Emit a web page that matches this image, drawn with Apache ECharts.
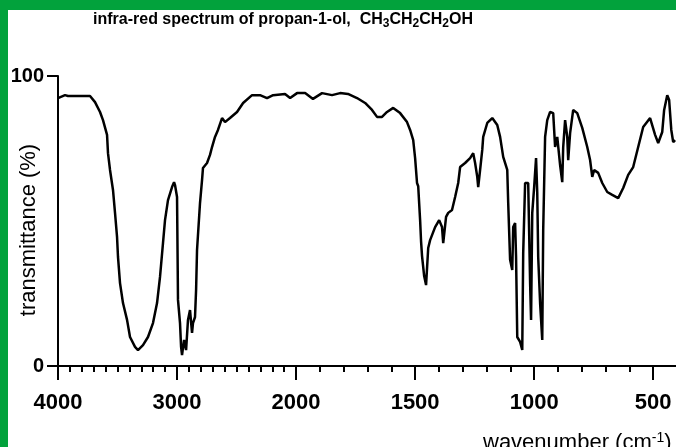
<!DOCTYPE html>
<html>
<head>
<meta charset="utf-8">
<script src="https://cdn.jsdelivr.net/npm/echarts@6/dist/echarts.min.js"></script>
<style>
  html, body { margin: 0; padding: 0; background: #fff; }
  #chart { width: 676px; height: 447px; }
</style>
</head>
<body>
<div id="chart"></div>
<script>
const wavenumber = [4000, 3941, 3916, 3731, 3689, 3647, 3622, 3588, 3580, 3563, 3538, 3521, 3504, 3496, 3479, 3454, 3420, 3395, 3353, 3328,
  3286, 3244, 3202, 3168, 3143, 3118, 3101, 3076, 3042, 3025, 3017, 3000, 2992, 2975, 2966, 2958, 2941, 2924, 2908, 2891,
  2874, 2866, 2849, 2840, 2832, 2807, 2790, 2782, 2748, 2723, 2706, 2681, 2656, 2622, 2597, 2555, 2496, 2445, 2370, 2303,
  2244, 2193, 2093, 2050, 1996, 1962, 1929, 1891, 1849, 1815, 1782, 1744, 1710, 1681, 1660, 1639, 1618, 1592, 1563, 1534,
  1521, 1508, 1500, 1492, 1487, 1479, 1475, 1471, 1462, 1454, 1445, 1437, 1416, 1399, 1387, 1382, 1370, 1361, 1345, 1332,
  1319, 1311, 1290, 1269, 1256, 1248, 1239, 1235, 1227, 1218, 1214, 1197, 1176, 1155, 1143, 1130, 1113, 1109, 1101, 1092,
  1088, 1080, 1076, 1071, 1059, 1050, 1046, 1038, 1025, 1017, 1013, 1008, 1000, 992, 987, 983, 975, 966, 962, 954,
  945, 933, 920, 912, 903, 891, 882, 878, 870, 861, 857, 849, 836, 819, 798, 777, 765, 756, 748, 731,
  714, 693, 672, 647, 626, 605, 584, 563, 542, 513, 492, 479, 462, 454, 441, 433, 424, 416, 408];
const transmittance = [92.4, 93.4, 93.1, 93.1, 91, 87.6, 84.8, 79.7, 73.4, 67.6, 60.7, 52.8, 44.5, 37.6, 28.6, 21.7, 15.9, 10, 6.6, 5.5,
  7.2, 10, 14.8, 21.7, 30.7, 42.4, 50.3, 57.2, 61.7, 63.4, 62.4, 58.3, 22.8, 14.8, 6.6, 3.8, 9, 5.5, 15.9, 19.3,
  11.4, 14.8, 16.9, 26.2, 40, 56.2, 64.1, 68.3, 70, 72.8, 75.5, 79, 81.4, 85.5, 84.1, 85.5, 87.6, 90.7, 93.4, 93.4,
  92.4, 93.4, 93.8, 92.4, 94.1, 94.1, 92.1, 94.1, 93.4, 94.1, 93.8, 92.4, 90.7, 88.3, 85.9, 85.9, 87.6, 89, 87.2, 84.1,
  81.4, 77.9, 71.7, 63.1, 62, 50.3, 43, 38, 31, 27.9, 40.7, 43.4, 47.9, 50.3, 47.9, 42.4, 51.4, 52.8, 53.8, 58.3,
  63.1, 68.6, 70, 71.7, 73.4, 70, 65.2, 61.7, 67.6, 74.5, 79, 83.8, 85.5, 83.1, 79, 72.1, 67.6, 56.2, 36.6, 33.1,
  47.9, 49.3, 37.6, 10, 8.3, 5.5, 39, 63.1, 63.1, 28.6, 15.9, 52.8, 61.7, 71.7, 59.7, 37.6, 21.7, 9, 46.9, 79,
  84.8, 87.6, 87.2, 75.5, 79, 69.3, 63.4, 75.5, 84.8, 79, 71, 80.3, 88.3, 87.2, 82.1, 75.5, 71, 65.2, 67.6, 66.6,
  63.1, 60, 59, 57.9, 61.4, 65.9, 68.6, 75.5, 82.4, 85.5, 79.7, 76.9, 80.7, 88.3, 93.4, 91.7, 81.4, 77.2, 77.9];
const majorTicks = [4000, 3000, 2000, 1500, 1000, 500];
const yTicks = [0, 100];
const xEnd = 400;

// x axis changes scale at 2000 cm-1: 1000 per division above, 500 below
function toPos(w) { return w >= 2000 ? (4000 - w) / 1000 : 2 + (2000 - w) / 500; }
function toWave(p) { return p <= 2 ? 4000 - p * 1000 : 2000 - (p - 2) * 500; }

const minorTicks = [];
for (let w = 3900; w > xEnd; w -= 100) {
  if (!majorTicks.includes(w)) minorTicks.push(w);
}

const font = "Liberation Sans";
const green = "#02a23c";

const chart = echarts.init(document.getElementById("chart"));
chart.setOption({
  animation: false,
  backgroundColor: "#fff",
  title: [
    {
      text: "infra-red spectrum of propan-1-ol,  CH{s|3}CH{s|2}CH{s|2}OH",
      left: 93,
      top: 10,
      padding: 0,
      textStyle: {
        fontFamily: font, fontSize: 16, fontWeight: "bold", color: "#000", lineHeight: 20,
        rich: { s: { fontFamily: font, fontSize: 12, fontWeight: "bold", color: "#000", verticalAlign: "bottom", lineHeight: 12 } },
      },
    },
    {
      text: "wavenumber (cm{u|-1})",
      left: 483,
      top: 431,
      padding: 0,
      textStyle: {
        fontFamily: font, fontSize: 22, fontWeight: "normal", color: "#000", lineHeight: 24,
        rich: { u: { fontFamily: font, fontSize: 14, color: "#000", verticalAlign: "top", lineHeight: 14 } },
      },
    },
  ],
  graphic: [
    { type: "rect", left: 0, top: 0, shape: { width: 8, height: 447 }, style: { fill: green } },
    { type: "rect", left: 0, top: 0, shape: { width: 676, height: 10 }, style: { fill: green } },
    {
      type: "text", x: 29, y: 230, rotation: Math.PI / 2,
      style: { text: "transmittance (%)", font: "22px " + font, fill: "#000", align: "center", verticalAlign: "middle" },
    },
  ],
  grid: { left: 58, top: 76, width: 619, height: 290, outerBoundsMode: "none" },
  xAxis: [
    {
      type: "value",
      min: 0,
      max: toPos(xEnd),
      axisLine: { show: true, lineStyle: { color: "#000", width: 2 } },
      axisTick: { show: true, length: 14, customValues: majorTicks.map(toPos), lineStyle: { color: "#000", width: 2 } },
      axisLabel: {
        customValues: majorTicks.map(toPos),
        formatter: (v) => String(Math.round(toWave(v))),
        margin: 26, fontFamily: font, fontSize: 22, fontWeight: "bold", color: "#000",
      },
      splitLine: { show: false },
    },
    {
      type: "value",
      position: "bottom",
      min: 0,
      max: toPos(xEnd),
      axisLine: { show: false },
      axisTick: { show: true, length: 6, customValues: minorTicks.map(toPos), lineStyle: { color: "#000", width: 2 } },
      axisLabel: { show: false },
      splitLine: { show: false },
    },
  ],
  yAxis: {
    type: "value",
    min: 0,
    max: 100,
    axisLine: { show: true, lineStyle: { color: "#000", width: 2 } },
    axisTick: { show: true, length: 11, customValues: yTicks, lineStyle: { color: "#000", width: 2 } },
    axisLabel: { customValues: yTicks, margin: 14, fontFamily: font, fontSize: 20, fontWeight: "bold", color: "#000" },
    splitLine: { show: false },
  },
  series: [
    {
      type: "line",
      data: wavenumber.map((w, i) => [toPos(w), transmittance[i]]),
      showSymbol: false,
      lineStyle: { color: "#000", width: 2.5 },
    },
  ],
});
</script>
</body>
</html>
